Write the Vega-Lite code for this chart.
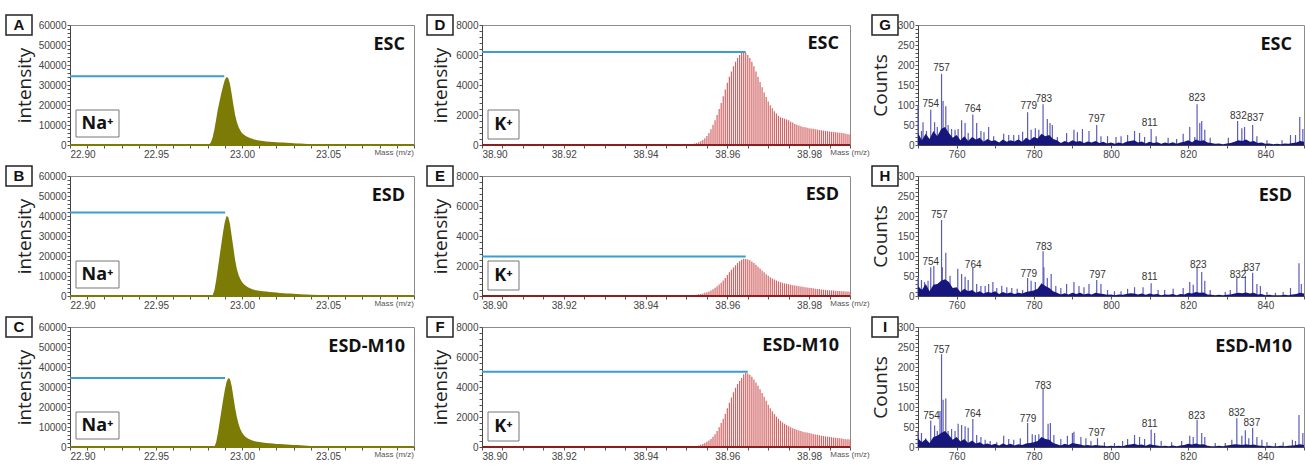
{
"$schema":"https://vega.github.io/schema/vega-lite/v6.json",
"padding":{"left":4,"top":13,"right":0,"bottom":0},
"background":"white",
"config":{"view":{"stroke":"#8c8c8c","strokeWidth":1},"axis":{"grid":false,"labelFont":"Liberation Sans","labelFontSize":10,"labelColor":"#444","tickColor":"#555","domainColor":"#444","tickSize":3,"labelPadding":1,"labelOverlap":false,"titleFont":"Open Sans","titleFontSize":19,"titleFontWeight":"normal","titleColor":"#222"}},
"datasets":{
"na":[
{"s":1,"k":"a","x":22.9897,"y":34400,"n":"ESC","L":"A"},
{"s":2,"k":"a","x":22.9902,"y":41700,"n":"ESD","L":"B"},
{"s":3,"k":"a","x":22.9902,"y":34500,"n":"ESD-M10","L":"C"},
{"s":1,"x":22.98,"y":0},{"s":1,"x":22.981,"y":300},{"s":1,"x":22.982,"y":1500},{"s":1,"x":22.983,"y":4000},{"s":1,"x":22.984,"y":8000},{"s":1,"x":22.985,"y":13000},{"s":1,"x":22.986,"y":18000},{"s":1,"x":22.987,"y":22000},{"s":1,"x":22.988,"y":26000},{"s":1,"x":22.989,"y":29500},{"s":1,"x":22.99,"y":32500},{"s":1,"x":22.991,"y":34000},{"s":1,"x":22.992,"y":33500},{"s":1,"x":22.993,"y":30500},{"s":1,"x":22.994,"y":25500},{"s":1,"x":22.995,"y":20000},{"s":1,"x":22.996,"y":15000},{"s":1,"x":22.997,"y":11500},{"s":1,"x":22.998,"y":9000},{"s":1,"x":22.999,"y":7300},{"s":1,"x":23.0,"y":6000},{"s":1,"x":23.001,"y":5200},{"s":1,"x":23.002,"y":4600},{"s":1,"x":23.003,"y":4100},{"s":1,"x":23.004,"y":3700},{"s":1,"x":23.005,"y":3400},{"s":1,"x":23.006,"y":3100},{"s":1,"x":23.007,"y":2800},{"s":1,"x":23.008,"y":2600},{"s":1,"x":23.009,"y":2400},{"s":1,"x":23.01,"y":2250},{"s":1,"x":23.012,"y":2000},{"s":1,"x":23.014,"y":1800},{"s":1,"x":23.016,"y":1650},{"s":1,"x":23.018,"y":1500},{"s":1,"x":23.02,"y":1400},{"s":1,"x":23.022,"y":1300},{"s":1,"x":23.024,"y":1200},{"s":1,"x":23.026,"y":1100},{"s":1,"x":23.028,"y":1000},{"s":1,"x":23.03,"y":900},{"s":1,"x":23.032,"y":800},{"s":1,"x":23.034,"y":700},{"s":1,"x":23.036,"y":600},{"s":1,"x":23.038,"y":500},{"s":1,"x":23.04,"y":400},{"s":1,"x":23.043,"y":250},{"s":1,"x":23.046,"y":150},{"s":1,"x":23.05,"y":0},
{"s":2,"x":22.982,"y":0},{"s":2,"x":22.983,"y":500},{"s":2,"x":22.984,"y":3000},{"s":2,"x":22.985,"y":8000},{"s":2,"x":22.986,"y":14000},{"s":2,"x":22.987,"y":20000},{"s":2,"x":22.988,"y":26000},{"s":2,"x":22.989,"y":32000},{"s":2,"x":22.99,"y":37000},{"s":2,"x":22.991,"y":40000},{"s":2,"x":22.992,"y":39500},{"s":2,"x":22.993,"y":36000},{"s":2,"x":22.994,"y":30000},{"s":2,"x":22.995,"y":24000},{"s":2,"x":22.996,"y":18000},{"s":2,"x":22.997,"y":13500},{"s":2,"x":22.998,"y":10500},{"s":2,"x":22.999,"y":8500},{"s":2,"x":23.0,"y":7000},{"s":2,"x":23.001,"y":6000},{"s":2,"x":23.002,"y":5200},{"s":2,"x":23.003,"y":4600},{"s":2,"x":23.004,"y":4100},{"s":2,"x":23.005,"y":3700},{"s":2,"x":23.006,"y":3400},{"s":2,"x":23.007,"y":3100},{"s":2,"x":23.008,"y":2900},{"s":2,"x":23.01,"y":2600},{"s":2,"x":23.012,"y":2400},{"s":2,"x":23.014,"y":2200},{"s":2,"x":23.016,"y":2000},{"s":2,"x":23.018,"y":1850},{"s":2,"x":23.02,"y":1700},{"s":2,"x":23.022,"y":1550},{"s":2,"x":23.024,"y":1400},{"s":2,"x":23.026,"y":1300},{"s":2,"x":23.028,"y":1200},{"s":2,"x":23.03,"y":1100},{"s":2,"x":23.032,"y":1000},{"s":2,"x":23.034,"y":900},{"s":2,"x":23.036,"y":800},{"s":2,"x":23.038,"y":700},{"s":2,"x":23.04,"y":600},{"s":2,"x":23.044,"y":450},{"s":2,"x":23.048,"y":350},{"s":2,"x":23.052,"y":250},{"s":2,"x":23.056,"y":150},{"s":2,"x":23.06,"y":0},
{"s":3,"x":22.983,"y":0},{"s":3,"x":22.984,"y":300},{"s":3,"x":22.985,"y":2500},{"s":3,"x":22.986,"y":7000},{"s":3,"x":22.987,"y":12500},{"s":3,"x":22.988,"y":18000},{"s":3,"x":22.989,"y":23500},{"s":3,"x":22.99,"y":28500},{"s":3,"x":22.991,"y":32500},{"s":3,"x":22.992,"y":34500},{"s":3,"x":22.993,"y":34000},{"s":3,"x":22.994,"y":30500},{"s":3,"x":22.995,"y":25000},{"s":3,"x":22.996,"y":19500},{"s":3,"x":22.997,"y":15000},{"s":3,"x":22.998,"y":11500},{"s":3,"x":22.999,"y":9000},{"s":3,"x":23.0,"y":7200},{"s":3,"x":23.001,"y":6000},{"s":3,"x":23.002,"y":5100},{"s":3,"x":23.003,"y":4500},{"s":3,"x":23.004,"y":4000},{"s":3,"x":23.005,"y":3600},{"s":3,"x":23.006,"y":3300},{"s":3,"x":23.007,"y":3000},{"s":3,"x":23.008,"y":2800},{"s":3,"x":23.01,"y":2500},{"s":3,"x":23.012,"y":2250},{"s":3,"x":23.014,"y":2050},{"s":3,"x":23.016,"y":1850},{"s":3,"x":23.018,"y":1700},{"s":3,"x":23.02,"y":1550},{"s":3,"x":23.022,"y":1450},{"s":3,"x":23.024,"y":1350},{"s":3,"x":23.026,"y":1250},{"s":3,"x":23.028,"y":1150},{"s":3,"x":23.03,"y":1050},{"s":3,"x":23.032,"y":950},{"s":3,"x":23.034,"y":850},{"s":3,"x":23.036,"y":750},{"s":3,"x":23.038,"y":650},{"s":3,"x":23.04,"y":500},{"s":3,"x":23.042,"y":200},{"s":3,"x":23.045,"y":0}
],
"kk":[
{"s":1,"k":"a","x":38.9645,"y":6200,"n":"ESC","L":"D"},
{"s":2,"k":"a","x":38.9645,"y":2630,"n":"ESD","L":"E"},
{"s":3,"k":"a","x":38.965,"y":5020,"n":"ESD-M10","L":"F"},
{"s":1,"x":38.951,"y":30},{"s":1,"x":38.9515,"y":60},{"s":1,"x":38.952,"y":100},{"s":1,"x":38.9525,"y":140},{"s":1,"x":38.953,"y":190},{"s":1,"x":38.9535,"y":250},{"s":1,"x":38.954,"y":330},{"s":1,"x":38.9545,"y":450},{"s":1,"x":38.955,"y":600},{"s":1,"x":38.9555,"y":800},{"s":1,"x":38.956,"y":1050},{"s":1,"x":38.9565,"y":1350},{"s":1,"x":38.957,"y":1650},{"s":1,"x":38.9575,"y":2000},{"s":1,"x":38.958,"y":2400},{"s":1,"x":38.9585,"y":2800},{"s":1,"x":38.959,"y":3250},{"s":1,"x":38.9595,"y":3700},{"s":1,"x":38.96,"y":4150},{"s":1,"x":38.9605,"y":4550},{"s":1,"x":38.961,"y":4900},{"s":1,"x":38.9615,"y":5250},{"s":1,"x":38.962,"y":5550},{"s":1,"x":38.9625,"y":5800},{"s":1,"x":38.963,"y":6000},{"s":1,"x":38.9635,"y":6150},{"s":1,"x":38.964,"y":6200},{"s":1,"x":38.9645,"y":6150},{"s":1,"x":38.965,"y":6000},{"s":1,"x":38.9655,"y":5800},{"s":1,"x":38.966,"y":5550},{"s":1,"x":38.9665,"y":5250},{"s":1,"x":38.967,"y":4900},{"s":1,"x":38.9675,"y":4550},{"s":1,"x":38.968,"y":4200},{"s":1,"x":38.9685,"y":3850},{"s":1,"x":38.969,"y":3500},{"s":1,"x":38.9695,"y":3200},{"s":1,"x":38.97,"y":2900},{"s":1,"x":38.9705,"y":2650},{"s":1,"x":38.971,"y":2450},{"s":1,"x":38.9715,"y":2250},{"s":1,"x":38.972,"y":2100},{"s":1,"x":38.9725,"y":1950},{"s":1,"x":38.973,"y":1850},{"s":1,"x":38.9735,"y":1800},{"s":1,"x":38.974,"y":1750},{"s":1,"x":38.9745,"y":1700},{"s":1,"x":38.975,"y":1650},{"s":1,"x":38.9755,"y":1550},{"s":1,"x":38.976,"y":1500},{"s":1,"x":38.9765,"y":1400},{"s":1,"x":38.977,"y":1350},{"s":1,"x":38.9775,"y":1300},{"s":1,"x":38.978,"y":1250},{"s":1,"x":38.9785,"y":1200},{"s":1,"x":38.979,"y":1180},{"s":1,"x":38.9795,"y":1150},{"s":1,"x":38.98,"y":1120},{"s":1,"x":38.9805,"y":1100},{"s":1,"x":38.981,"y":1080},{"s":1,"x":38.9815,"y":1050},{"s":1,"x":38.982,"y":1030},{"s":1,"x":38.9825,"y":1000},{"s":1,"x":38.983,"y":980},{"s":1,"x":38.9835,"y":960},{"s":1,"x":38.984,"y":940},{"s":1,"x":38.9845,"y":920},{"s":1,"x":38.985,"y":900},{"s":1,"x":38.9855,"y":880},{"s":1,"x":38.986,"y":860},{"s":1,"x":38.9865,"y":850},{"s":1,"x":38.987,"y":830},{"s":1,"x":38.9875,"y":810},{"s":1,"x":38.988,"y":800},{"s":1,"x":38.9885,"y":780},{"s":1,"x":38.989,"y":750},{"s":1,"x":38.9895,"y":720},{"s":1,"x":38.99,"y":700},
{"s":2,"x":38.9515,"y":30},{"s":2,"x":38.952,"y":50},{"s":2,"x":38.9525,"y":80},{"s":2,"x":38.953,"y":110},{"s":2,"x":38.9535,"y":140},{"s":2,"x":38.954,"y":170},{"s":2,"x":38.9545,"y":210},{"s":2,"x":38.955,"y":250},{"s":2,"x":38.9555,"y":300},{"s":2,"x":38.956,"y":370},{"s":2,"x":38.9565,"y":450},{"s":2,"x":38.957,"y":550},{"s":2,"x":38.9575,"y":650},{"s":2,"x":38.958,"y":760},{"s":2,"x":38.9585,"y":880},{"s":2,"x":38.959,"y":1030},{"s":2,"x":38.9595,"y":1200},{"s":2,"x":38.96,"y":1400},{"s":2,"x":38.9605,"y":1580},{"s":2,"x":38.961,"y":1750},{"s":2,"x":38.9615,"y":1900},{"s":2,"x":38.962,"y":2050},{"s":2,"x":38.9625,"y":2200},{"s":2,"x":38.963,"y":2320},{"s":2,"x":38.9635,"y":2420},{"s":2,"x":38.964,"y":2480},{"s":2,"x":38.9645,"y":2470},{"s":2,"x":38.965,"y":2440},{"s":2,"x":38.9655,"y":2380},{"s":2,"x":38.966,"y":2300},{"s":2,"x":38.9665,"y":2200},{"s":2,"x":38.967,"y":2080},{"s":2,"x":38.9675,"y":1950},{"s":2,"x":38.968,"y":1830},{"s":2,"x":38.9685,"y":1700},{"s":2,"x":38.969,"y":1580},{"s":2,"x":38.9695,"y":1450},{"s":2,"x":38.97,"y":1350},{"s":2,"x":38.9705,"y":1250},{"s":2,"x":38.971,"y":1170},{"s":2,"x":38.9715,"y":1100},{"s":2,"x":38.972,"y":1030},{"s":2,"x":38.9725,"y":970},{"s":2,"x":38.973,"y":920},{"s":2,"x":38.9735,"y":880},{"s":2,"x":38.974,"y":840},{"s":2,"x":38.9745,"y":810},{"s":2,"x":38.975,"y":780},{"s":2,"x":38.9755,"y":750},{"s":2,"x":38.976,"y":720},{"s":2,"x":38.9765,"y":700},{"s":2,"x":38.977,"y":680},{"s":2,"x":38.9775,"y":650},{"s":2,"x":38.978,"y":630},{"s":2,"x":38.9785,"y":610},{"s":2,"x":38.979,"y":590},{"s":2,"x":38.9795,"y":570},{"s":2,"x":38.98,"y":550},{"s":2,"x":38.9805,"y":530},{"s":2,"x":38.981,"y":510},{"s":2,"x":38.9815,"y":490},{"s":2,"x":38.982,"y":470},{"s":2,"x":38.9825,"y":460},{"s":2,"x":38.983,"y":440},{"s":2,"x":38.9835,"y":420},{"s":2,"x":38.984,"y":410},{"s":2,"x":38.9845,"y":390},{"s":2,"x":38.985,"y":380},{"s":2,"x":38.9855,"y":370},{"s":2,"x":38.986,"y":360},{"s":2,"x":38.9865,"y":350},{"s":2,"x":38.987,"y":340},{"s":2,"x":38.9875,"y":330},{"s":2,"x":38.988,"y":320},{"s":2,"x":38.9885,"y":310},{"s":2,"x":38.989,"y":300},{"s":2,"x":38.9895,"y":300},{"s":2,"x":38.99,"y":290},
{"s":3,"x":38.952,"y":30},{"s":3,"x":38.9525,"y":60},{"s":3,"x":38.953,"y":100},{"s":3,"x":38.9535,"y":150},{"s":3,"x":38.954,"y":200},{"s":3,"x":38.9545,"y":270},{"s":3,"x":38.955,"y":350},{"s":3,"x":38.9555,"y":430},{"s":3,"x":38.956,"y":530},{"s":3,"x":38.9565,"y":680},{"s":3,"x":38.957,"y":850},{"s":3,"x":38.9575,"y":1070},{"s":3,"x":38.958,"y":1320},{"s":3,"x":38.9585,"y":1600},{"s":3,"x":38.959,"y":1880},{"s":3,"x":38.9595,"y":2200},{"s":3,"x":38.96,"y":2580},{"s":3,"x":38.9605,"y":2950},{"s":3,"x":38.961,"y":3300},{"s":3,"x":38.9615,"y":3650},{"s":3,"x":38.962,"y":3950},{"s":3,"x":38.9625,"y":4200},{"s":3,"x":38.963,"y":4400},{"s":3,"x":38.9635,"y":4600},{"s":3,"x":38.964,"y":4850},{"s":3,"x":38.9645,"y":4950},{"s":3,"x":38.965,"y":4900},{"s":3,"x":38.9655,"y":4820},{"s":3,"x":38.966,"y":4680},{"s":3,"x":38.9665,"y":4500},{"s":3,"x":38.967,"y":4300},{"s":3,"x":38.9675,"y":4080},{"s":3,"x":38.968,"y":3850},{"s":3,"x":38.9685,"y":3600},{"s":3,"x":38.969,"y":3350},{"s":3,"x":38.9695,"y":3080},{"s":3,"x":38.97,"y":2820},{"s":3,"x":38.9705,"y":2580},{"s":3,"x":38.971,"y":2380},{"s":3,"x":38.9715,"y":2200},{"s":3,"x":38.972,"y":2030},{"s":3,"x":38.9725,"y":1880},{"s":3,"x":38.973,"y":1750},{"s":3,"x":38.9735,"y":1640},{"s":3,"x":38.974,"y":1550},{"s":3,"x":38.9745,"y":1460},{"s":3,"x":38.975,"y":1380},{"s":3,"x":38.9755,"y":1310},{"s":3,"x":38.976,"y":1250},{"s":3,"x":38.9765,"y":1200},{"s":3,"x":38.977,"y":1150},{"s":3,"x":38.9775,"y":1100},{"s":3,"x":38.978,"y":1060},{"s":3,"x":38.9785,"y":1020},{"s":3,"x":38.979,"y":990},{"s":3,"x":38.9795,"y":960},{"s":3,"x":38.98,"y":930},{"s":3,"x":38.9805,"y":900},{"s":3,"x":38.981,"y":870},{"s":3,"x":38.9815,"y":840},{"s":3,"x":38.982,"y":810},{"s":3,"x":38.9825,"y":780},{"s":3,"x":38.983,"y":750},{"s":3,"x":38.9835,"y":730},{"s":3,"x":38.984,"y":710},{"s":3,"x":38.9845,"y":690},{"s":3,"x":38.985,"y":670},{"s":3,"x":38.9855,"y":650},{"s":3,"x":38.986,"y":630},{"s":3,"x":38.9865,"y":610},{"s":3,"x":38.987,"y":600},{"s":3,"x":38.9875,"y":580},{"s":3,"x":38.988,"y":560},{"s":3,"x":38.9885,"y":540},{"s":3,"x":38.989,"y":520},{"s":3,"x":38.9895,"y":510},{"s":3,"x":38.99,"y":500}
],
"lp":[
{"s":1,"k":"a","x":800,"y":0,"n":"ESC","L":"G"},{"s":2,"k":"a","x":800,"y":0,"n":"ESD","L":"H"},{"s":3,"k":"a","x":800,"y":0,"n":"ESD-M10","L":"I"},
{"s":1,"k":"l","x":753.3,"y":96,"lab":"754"},{"s":1,"k":"l","x":756.1,"y":186,"lab":"757"},{"s":1,"k":"l","x":764.2,"y":82,"lab":"764"},{"s":1,"k":"l","x":778.7,"y":89,"lab":"779"},{"s":1,"k":"l","x":782.6,"y":108,"lab":"783"},{"s":1,"k":"l","x":796.3,"y":57,"lab":"797"},{"s":1,"k":"l","x":810.0,"y":48,"lab":"811"},{"s":1,"k":"l","x":822.3,"y":111,"lab":"823"},{"s":1,"k":"l","x":833.0,"y":66,"lab":"832"},{"s":1,"k":"l","x":837.4,"y":60,"lab":"837"},
{"s":2,"k":"l","x":753.3,"y":77,"lab":"754"},{"s":2,"k":"l","x":755.5,"y":195,"lab":"757"},{"s":2,"k":"l","x":764.3,"y":71,"lab":"764"},{"s":2,"k":"l","x":778.7,"y":47,"lab":"779"},{"s":2,"k":"l","x":782.6,"y":115,"lab":"783"},{"s":2,"k":"l","x":796.5,"y":45,"lab":"797"},{"s":2,"k":"l","x":810.0,"y":39,"lab":"811"},{"s":2,"k":"l","x":822.6,"y":71,"lab":"823"},{"s":2,"k":"l","x":832.9,"y":45,"lab":"832"},{"s":2,"k":"l","x":836.5,"y":63,"lab":"837"},
{"s":3,"k":"l","x":753.5,"y":70,"lab":"754"},{"s":3,"k":"l","x":756.1,"y":236,"lab":"757"},{"s":3,"k":"l","x":764.2,"y":74,"lab":"764"},{"s":3,"k":"l","x":778.5,"y":62,"lab":"779"},{"s":3,"k":"l","x":782.4,"y":146,"lab":"783"},{"s":3,"k":"l","x":796.3,"y":28,"lab":"797"},{"s":3,"k":"l","x":810.0,"y":50,"lab":"811"},{"s":3,"k":"l","x":822.2,"y":70,"lab":"823"},{"s":3,"k":"l","x":832.6,"y":78,"lab":"832"},{"s":3,"k":"l","x":836.5,"y":52,"lab":"837"},
{"s":1,"x":750.0,"y":100},{"s":1,"x":750.9,"y":35},{"s":1,"x":751.3,"y":57},{"s":1,"x":752.2,"y":35},{"s":1,"x":753.3,"y":88},{"s":1,"x":754.3,"y":57},{"s":1,"x":755.0,"y":45},{"s":1,"x":756.1,"y":178},{"s":1,"x":756.5,"y":110},{"s":1,"x":757.2,"y":97},{"s":1,"x":757.8,"y":50},{"s":1,"x":758.7,"y":40},{"s":1,"x":759.6,"y":38},{"s":1,"x":760.4,"y":40},{"s":1,"x":761.3,"y":62},{"s":1,"x":762.2,"y":55},{"s":1,"x":763.0,"y":30},{"s":1,"x":764.2,"y":76},{"s":1,"x":765.2,"y":55},{"s":1,"x":766.3,"y":35},{"s":1,"x":767.1,"y":32},{"s":1,"x":768.3,"y":45},{"s":1,"x":769.6,"y":22},{"s":1,"x":772.2,"y":28},{"s":1,"x":773.5,"y":25},{"s":1,"x":774.8,"y":25},{"s":1,"x":776.1,"y":25},{"s":1,"x":777.1,"y":33},{"s":1,"x":778.4,"y":82},{"s":1,"x":779.3,"y":38},{"s":1,"x":780.4,"y":42},{"s":1,"x":781.3,"y":38},{"s":1,"x":782.4,"y":102},{"s":1,"x":783.5,"y":65},{"s":1,"x":784.2,"y":55},{"s":1,"x":784.8,"y":50},{"s":1,"x":786.1,"y":20},{"s":1,"x":788.5,"y":30},{"s":1,"x":790.4,"y":38},{"s":1,"x":791.3,"y":32},{"s":1,"x":792.6,"y":40},{"s":1,"x":794.3,"y":35},{"s":1,"x":796.3,"y":50},{"s":1,"x":797.4,"y":22},{"s":1,"x":799.1,"y":22},{"s":1,"x":801.3,"y":20},{"s":1,"x":802.6,"y":22},{"s":1,"x":804.3,"y":25},{"s":1,"x":806.1,"y":35},{"s":1,"x":807.4,"y":30},{"s":1,"x":808.7,"y":20},{"s":1,"x":810.4,"y":40},{"s":1,"x":811.7,"y":22},{"s":1,"x":814.8,"y":18},{"s":1,"x":817.0,"y":15},{"s":1,"x":818.7,"y":28},{"s":1,"x":820.4,"y":45},{"s":1,"x":821.7,"y":20},{"s":1,"x":822.3,"y":102},{"s":1,"x":823.0,"y":55},{"s":1,"x":823.5,"y":60},{"s":1,"x":824.3,"y":38},{"s":1,"x":825.7,"y":18},{"s":1,"x":830.4,"y":18},{"s":1,"x":832.8,"y":60},{"s":1,"x":833.9,"y":42},{"s":1,"x":834.6,"y":45},{"s":1,"x":836.7,"y":50},{"s":1,"x":837.8,"y":22},{"s":1,"x":840.4,"y":12},{"s":1,"x":844.3,"y":12},{"s":1,"x":846.5,"y":25},{"s":1,"x":847.8,"y":25},{"s":1,"x":848.9,"y":70},{"s":1,"x":849.7,"y":40},
{"s":2,"x":750.0,"y":45},{"s":2,"x":750.9,"y":40},{"s":2,"x":751.7,"y":35},{"s":2,"x":752.6,"y":38},{"s":2,"x":753.3,"y":72},{"s":2,"x":754.1,"y":75},{"s":2,"x":756.1,"y":190},{"s":2,"x":756.3,"y":72},{"s":2,"x":757.2,"y":108},{"s":2,"x":758.3,"y":50},{"s":2,"x":760.3,"y":68},{"s":2,"x":761.3,"y":55},{"s":2,"x":762.2,"y":48},{"s":2,"x":763.0,"y":40},{"s":2,"x":764.2,"y":70},{"s":2,"x":765.2,"y":30},{"s":2,"x":766.3,"y":25},{"s":2,"x":767.4,"y":25},{"s":2,"x":768.3,"y":30},{"s":2,"x":769.4,"y":35},{"s":2,"x":770.4,"y":20},{"s":2,"x":771.7,"y":25},{"s":2,"x":773.0,"y":22},{"s":2,"x":774.3,"y":20},{"s":2,"x":775.7,"y":18},{"s":2,"x":777.1,"y":15},{"s":2,"x":778.4,"y":45},{"s":2,"x":779.3,"y":38},{"s":2,"x":780.4,"y":35},{"s":2,"x":782.4,"y":112},{"s":2,"x":782.6,"y":72},{"s":2,"x":783.5,"y":45},{"s":2,"x":784.5,"y":55},{"s":2,"x":785.7,"y":25},{"s":2,"x":787.0,"y":20},{"s":2,"x":788.5,"y":30},{"s":2,"x":790.4,"y":35},{"s":2,"x":791.7,"y":25},{"s":2,"x":793.0,"y":22},{"s":2,"x":794.3,"y":30},{"s":2,"x":796.3,"y":40},{"s":2,"x":797.4,"y":30},{"s":2,"x":799.1,"y":15},{"s":2,"x":800.9,"y":12},{"s":2,"x":802.6,"y":12},{"s":2,"x":804.3,"y":18},{"s":2,"x":806.1,"y":22},{"s":2,"x":808.3,"y":22},{"s":2,"x":810.4,"y":32},{"s":2,"x":812.2,"y":15},{"s":2,"x":813.9,"y":15},{"s":2,"x":816.1,"y":18},{"s":2,"x":818.7,"y":20},{"s":2,"x":820.4,"y":35},{"s":2,"x":821.3,"y":28},{"s":2,"x":822.3,"y":70},{"s":2,"x":823.5,"y":60},{"s":2,"x":824.3,"y":38},{"s":2,"x":825.7,"y":15},{"s":2,"x":829.6,"y":10},{"s":2,"x":830.9,"y":15},{"s":2,"x":832.6,"y":45},{"s":2,"x":834.8,"y":50},{"s":2,"x":836.7,"y":58},{"s":2,"x":837.8,"y":30},{"s":2,"x":838.7,"y":25},{"s":2,"x":840.4,"y":10},{"s":2,"x":842.6,"y":8},{"s":2,"x":844.6,"y":10},{"s":2,"x":846.5,"y":20},{"s":2,"x":848.7,"y":82},{"s":2,"x":849.3,"y":30},
{"s":3,"x":750.0,"y":38},{"s":3,"x":750.9,"y":35},{"s":3,"x":752.0,"y":22},{"s":3,"x":753.3,"y":66},{"s":3,"x":754.3,"y":54},{"s":3,"x":755.0,"y":40},{"s":3,"x":755.7,"y":90},{"s":3,"x":756.1,"y":232},{"s":3,"x":756.5,"y":118},{"s":3,"x":757.2,"y":121},{"s":3,"x":757.8,"y":40},{"s":3,"x":758.7,"y":45},{"s":3,"x":759.6,"y":40},{"s":3,"x":760.4,"y":58},{"s":3,"x":761.3,"y":55},{"s":3,"x":762.2,"y":52},{"s":3,"x":763.0,"y":48},{"s":3,"x":764.2,"y":70},{"s":3,"x":765.2,"y":30},{"s":3,"x":766.3,"y":25},{"s":3,"x":767.4,"y":18},{"s":3,"x":768.7,"y":15},{"s":3,"x":770.4,"y":12},{"s":3,"x":772.2,"y":28},{"s":3,"x":773.5,"y":20},{"s":3,"x":774.8,"y":18},{"s":3,"x":776.5,"y":22},{"s":3,"x":778.4,"y":60},{"s":3,"x":779.6,"y":32},{"s":3,"x":780.4,"y":30},{"s":3,"x":781.3,"y":32},{"s":3,"x":782.4,"y":145},{"s":3,"x":783.7,"y":58},{"s":3,"x":784.3,"y":60},{"s":3,"x":785.2,"y":30},{"s":3,"x":787.0,"y":20},{"s":3,"x":788.7,"y":28},{"s":3,"x":790.0,"y":35},{"s":3,"x":790.4,"y":38},{"s":3,"x":792.2,"y":25},{"s":3,"x":793.5,"y":22},{"s":3,"x":794.8,"y":15},{"s":3,"x":796.5,"y":22},{"s":3,"x":798.3,"y":12},{"s":3,"x":800.9,"y":10},{"s":3,"x":803.0,"y":15},{"s":3,"x":804.3,"y":20},{"s":3,"x":806.1,"y":30},{"s":3,"x":807.4,"y":25},{"s":3,"x":808.7,"y":20},{"s":3,"x":810.4,"y":44},{"s":3,"x":811.3,"y":35},{"s":3,"x":813.0,"y":15},{"s":3,"x":815.7,"y":12},{"s":3,"x":818.3,"y":15},{"s":3,"x":820.4,"y":28},{"s":3,"x":821.3,"y":25},{"s":3,"x":822.3,"y":68},{"s":3,"x":823.5,"y":35},{"s":3,"x":824.3,"y":25},{"s":3,"x":827.0,"y":10},{"s":3,"x":829.6,"y":10},{"s":3,"x":831.3,"y":18},{"s":3,"x":832.6,"y":72},{"s":3,"x":833.9,"y":28},{"s":3,"x":834.8,"y":42},{"s":3,"x":835.7,"y":22},{"s":3,"x":836.7,"y":48},{"s":3,"x":837.8,"y":25},{"s":3,"x":839.1,"y":18},{"s":3,"x":840.4,"y":12},{"s":3,"x":842.6,"y":10},{"s":3,"x":844.6,"y":12},{"s":3,"x":847.0,"y":18},{"s":3,"x":847.8,"y":15},{"s":3,"x":848.7,"y":80},{"s":3,"x":849.7,"y":35},
{"s":1,"k":"n","x":750,"y":30},{"s":1,"k":"n","x":751,"y":12},{"s":1,"k":"n","x":752,"y":28},{"s":1,"k":"n","x":753,"y":15},{"s":1,"k":"n","x":754,"y":35},{"s":1,"k":"n","x":755,"y":22},{"s":1,"k":"n","x":756,"y":40},{"s":1,"k":"n","x":757,"y":45},{"s":1,"k":"n","x":758,"y":30},{"s":1,"k":"n","x":759,"y":18},{"s":1,"k":"n","x":760,"y":25},{"s":1,"k":"n","x":761,"y":12},{"s":1,"k":"n","x":762,"y":22},{"s":1,"k":"n","x":763,"y":10},{"s":1,"k":"n","x":764,"y":20},{"s":1,"k":"n","x":765,"y":14},{"s":1,"k":"n","x":766,"y":18},{"s":1,"k":"n","x":767,"y":8},{"s":1,"k":"n","x":768,"y":15},{"s":1,"k":"n","x":769,"y":10},{"s":1,"k":"n","x":770,"y":12},{"s":1,"k":"n","x":771,"y":6},{"s":1,"k":"n","x":772,"y":14},{"s":1,"k":"n","x":773,"y":8},{"s":1,"k":"n","x":774,"y":12},{"s":1,"k":"n","x":775,"y":9},{"s":1,"k":"n","x":776,"y":14},{"s":1,"k":"n","x":777,"y":8},{"s":1,"k":"n","x":778,"y":18},{"s":1,"k":"n","x":779,"y":12},{"s":1,"k":"n","x":780,"y":20},{"s":1,"k":"n","x":781,"y":16},{"s":1,"k":"n","x":782,"y":28},{"s":1,"k":"n","x":783,"y":22},{"s":1,"k":"n","x":784,"y":25},{"s":1,"k":"n","x":785,"y":15},{"s":1,"k":"n","x":786,"y":12},{"s":1,"k":"n","x":787,"y":5},{"s":1,"k":"n","x":788,"y":10},{"s":1,"k":"n","x":789,"y":6},{"s":1,"k":"n","x":790,"y":12},{"s":1,"k":"n","x":791,"y":8},{"s":1,"k":"n","x":792,"y":10},{"s":1,"k":"n","x":793,"y":5},{"s":1,"k":"n","x":794,"y":9},{"s":1,"k":"n","x":795,"y":6},{"s":1,"k":"n","x":796,"y":10},{"s":1,"k":"n","x":797,"y":5},{"s":1,"k":"n","x":798,"y":8},{"s":1,"k":"n","x":799,"y":4},{"s":1,"k":"n","x":800,"y":6},{"s":1,"k":"n","x":801,"y":3},{"s":1,"k":"n","x":802,"y":6},{"s":1,"k":"n","x":803,"y":4},{"s":1,"k":"n","x":804,"y":8},{"s":1,"k":"n","x":805,"y":10},{"s":1,"k":"n","x":806,"y":12},{"s":1,"k":"n","x":807,"y":6},{"s":1,"k":"n","x":808,"y":9},{"s":1,"k":"n","x":809,"y":4},{"s":1,"k":"n","x":810,"y":8},{"s":1,"k":"n","x":811,"y":5},{"s":1,"k":"n","x":812,"y":7},{"s":1,"k":"n","x":813,"y":3},{"s":1,"k":"n","x":814,"y":6},{"s":1,"k":"n","x":815,"y":4},{"s":1,"k":"n","x":816,"y":7},{"s":1,"k":"n","x":817,"y":3},{"s":1,"k":"n","x":818,"y":6},{"s":1,"k":"n","x":819,"y":8},{"s":1,"k":"n","x":820,"y":12},{"s":1,"k":"n","x":821,"y":7},{"s":1,"k":"n","x":822,"y":14},{"s":1,"k":"n","x":823,"y":10},{"s":1,"k":"n","x":824,"y":12},{"s":1,"k":"n","x":825,"y":6},{"s":1,"k":"n","x":826,"y":5},{"s":1,"k":"n","x":827,"y":3},{"s":1,"k":"n","x":828,"y":4},{"s":1,"k":"n","x":829,"y":2},{"s":1,"k":"n","x":830,"y":4},{"s":1,"k":"n","x":831,"y":5},{"s":1,"k":"n","x":832,"y":8},{"s":1,"k":"n","x":833,"y":12},{"s":1,"k":"n","x":834,"y":10},{"s":1,"k":"n","x":835,"y":14},{"s":1,"k":"n","x":836,"y":8},{"s":1,"k":"n","x":837,"y":10},{"s":1,"k":"n","x":838,"y":5},{"s":1,"k":"n","x":839,"y":6},{"s":1,"k":"n","x":840,"y":3},{"s":1,"k":"n","x":841,"y":4},{"s":1,"k":"n","x":842,"y":2},{"s":1,"k":"n","x":843,"y":3},{"s":1,"k":"n","x":844,"y":2},{"s":1,"k":"n","x":845,"y":4},{"s":1,"k":"n","x":846,"y":3},{"s":1,"k":"n","x":847,"y":5},{"s":1,"k":"n","x":848,"y":6},{"s":1,"k":"n","x":849,"y":10},{"s":1,"k":"n","x":850,"y":8},
{"s":2,"k":"n","x":750,"y":25},{"s":2,"k":"n","x":751,"y":15},{"s":2,"k":"n","x":752,"y":30},{"s":2,"k":"n","x":753,"y":12},{"s":2,"k":"n","x":754,"y":28},{"s":2,"k":"n","x":755,"y":30},{"s":2,"k":"n","x":756,"y":38},{"s":2,"k":"n","x":757,"y":42},{"s":2,"k":"n","x":758,"y":35},{"s":2,"k":"n","x":759,"y":20},{"s":2,"k":"n","x":760,"y":22},{"s":2,"k":"n","x":761,"y":10},{"s":2,"k":"n","x":762,"y":18},{"s":2,"k":"n","x":763,"y":12},{"s":2,"k":"n","x":764,"y":15},{"s":2,"k":"n","x":765,"y":8},{"s":2,"k":"n","x":766,"y":12},{"s":2,"k":"n","x":767,"y":6},{"s":2,"k":"n","x":768,"y":10},{"s":2,"k":"n","x":769,"y":8},{"s":2,"k":"n","x":770,"y":12},{"s":2,"k":"n","x":771,"y":5},{"s":2,"k":"n","x":772,"y":10},{"s":2,"k":"n","x":773,"y":6},{"s":2,"k":"n","x":774,"y":9},{"s":2,"k":"n","x":775,"y":5},{"s":2,"k":"n","x":776,"y":8},{"s":2,"k":"n","x":777,"y":6},{"s":2,"k":"n","x":778,"y":10},{"s":2,"k":"n","x":779,"y":12},{"s":2,"k":"n","x":780,"y":14},{"s":2,"k":"n","x":781,"y":18},{"s":2,"k":"n","x":782,"y":32},{"s":2,"k":"n","x":783,"y":25},{"s":2,"k":"n","x":784,"y":20},{"s":2,"k":"n","x":785,"y":12},{"s":2,"k":"n","x":786,"y":8},{"s":2,"k":"n","x":787,"y":4},{"s":2,"k":"n","x":788,"y":7},{"s":2,"k":"n","x":789,"y":4},{"s":2,"k":"n","x":790,"y":8},{"s":2,"k":"n","x":791,"y":5},{"s":2,"k":"n","x":792,"y":8},{"s":2,"k":"n","x":793,"y":4},{"s":2,"k":"n","x":794,"y":6},{"s":2,"k":"n","x":795,"y":4},{"s":2,"k":"n","x":796,"y":8},{"s":2,"k":"n","x":797,"y":6},{"s":2,"k":"n","x":798,"y":5},{"s":2,"k":"n","x":799,"y":3},{"s":2,"k":"n","x":800,"y":4},{"s":2,"k":"n","x":801,"y":2},{"s":2,"k":"n","x":802,"y":4},{"s":2,"k":"n","x":803,"y":3},{"s":2,"k":"n","x":804,"y":5},{"s":2,"k":"n","x":805,"y":7},{"s":2,"k":"n","x":806,"y":6},{"s":2,"k":"n","x":807,"y":4},{"s":2,"k":"n","x":808,"y":6},{"s":2,"k":"n","x":809,"y":3},{"s":2,"k":"n","x":810,"y":6},{"s":2,"k":"n","x":811,"y":4},{"s":2,"k":"n","x":812,"y":5},{"s":2,"k":"n","x":813,"y":2},{"s":2,"k":"n","x":814,"y":4},{"s":2,"k":"n","x":815,"y":3},{"s":2,"k":"n","x":816,"y":5},{"s":2,"k":"n","x":817,"y":2},{"s":2,"k":"n","x":818,"y":5},{"s":2,"k":"n","x":819,"y":4},{"s":2,"k":"n","x":820,"y":8},{"s":2,"k":"n","x":821,"y":6},{"s":2,"k":"n","x":822,"y":10},{"s":2,"k":"n","x":823,"y":8},{"s":2,"k":"n","x":824,"y":9},{"s":2,"k":"n","x":825,"y":4},{"s":2,"k":"n","x":826,"y":3},{"s":2,"k":"n","x":827,"y":2},{"s":2,"k":"n","x":828,"y":3},{"s":2,"k":"n","x":829,"y":2},{"s":2,"k":"n","x":830,"y":3},{"s":2,"k":"n","x":831,"y":4},{"s":2,"k":"n","x":832,"y":6},{"s":2,"k":"n","x":833,"y":8},{"s":2,"k":"n","x":834,"y":7},{"s":2,"k":"n","x":835,"y":9},{"s":2,"k":"n","x":836,"y":6},{"s":2,"k":"n","x":837,"y":8},{"s":2,"k":"n","x":838,"y":4},{"s":2,"k":"n","x":839,"y":5},{"s":2,"k":"n","x":840,"y":2},{"s":2,"k":"n","x":841,"y":3},{"s":2,"k":"n","x":842,"y":2},{"s":2,"k":"n","x":843,"y":2},{"s":2,"k":"n","x":844,"y":2},{"s":2,"k":"n","x":845,"y":3},{"s":2,"k":"n","x":846,"y":2},{"s":2,"k":"n","x":847,"y":4},{"s":2,"k":"n","x":848,"y":5},{"s":2,"k":"n","x":849,"y":8},{"s":2,"k":"n","x":850,"y":6},
{"s":3,"k":"n","x":750,"y":22},{"s":3,"k":"n","x":751,"y":12},{"s":3,"k":"n","x":752,"y":20},{"s":3,"k":"n","x":753,"y":10},{"s":3,"k":"n","x":754,"y":25},{"s":3,"k":"n","x":755,"y":28},{"s":3,"k":"n","x":756,"y":35},{"s":3,"k":"n","x":757,"y":40},{"s":3,"k":"n","x":758,"y":30},{"s":3,"k":"n","x":759,"y":18},{"s":3,"k":"n","x":760,"y":25},{"s":3,"k":"n","x":761,"y":14},{"s":3,"k":"n","x":762,"y":20},{"s":3,"k":"n","x":763,"y":10},{"s":3,"k":"n","x":764,"y":16},{"s":3,"k":"n","x":765,"y":9},{"s":3,"k":"n","x":766,"y":12},{"s":3,"k":"n","x":767,"y":6},{"s":3,"k":"n","x":768,"y":9},{"s":3,"k":"n","x":769,"y":5},{"s":3,"k":"n","x":770,"y":8},{"s":3,"k":"n","x":771,"y":4},{"s":3,"k":"n","x":772,"y":9},{"s":3,"k":"n","x":773,"y":5},{"s":3,"k":"n","x":774,"y":8},{"s":3,"k":"n","x":775,"y":4},{"s":3,"k":"n","x":776,"y":7},{"s":3,"k":"n","x":777,"y":5},{"s":3,"k":"n","x":778,"y":9},{"s":3,"k":"n","x":779,"y":10},{"s":3,"k":"n","x":780,"y":12},{"s":3,"k":"n","x":781,"y":15},{"s":3,"k":"n","x":782,"y":25},{"s":3,"k":"n","x":783,"y":20},{"s":3,"k":"n","x":784,"y":18},{"s":3,"k":"n","x":785,"y":10},{"s":3,"k":"n","x":786,"y":7},{"s":3,"k":"n","x":787,"y":4},{"s":3,"k":"n","x":788,"y":8},{"s":3,"k":"n","x":789,"y":5},{"s":3,"k":"n","x":790,"y":10},{"s":3,"k":"n","x":791,"y":8},{"s":3,"k":"n","x":792,"y":6},{"s":3,"k":"n","x":793,"y":4},{"s":3,"k":"n","x":794,"y":5},{"s":3,"k":"n","x":795,"y":3},{"s":3,"k":"n","x":796,"y":5},{"s":3,"k":"n","x":797,"y":4},{"s":3,"k":"n","x":798,"y":3},{"s":3,"k":"n","x":799,"y":2},{"s":3,"k":"n","x":800,"y":3},{"s":3,"k":"n","x":801,"y":2},{"s":3,"k":"n","x":802,"y":3},{"s":3,"k":"n","x":803,"y":2},{"s":3,"k":"n","x":804,"y":5},{"s":3,"k":"n","x":805,"y":6},{"s":3,"k":"n","x":806,"y":8},{"s":3,"k":"n","x":807,"y":5},{"s":3,"k":"n","x":808,"y":6},{"s":3,"k":"n","x":809,"y":3},{"s":3,"k":"n","x":810,"y":7},{"s":3,"k":"n","x":811,"y":5},{"s":3,"k":"n","x":812,"y":4},{"s":3,"k":"n","x":813,"y":2},{"s":3,"k":"n","x":814,"y":3},{"s":3,"k":"n","x":815,"y":2},{"s":3,"k":"n","x":816,"y":4},{"s":3,"k":"n","x":817,"y":2},{"s":3,"k":"n","x":818,"y":4},{"s":3,"k":"n","x":819,"y":5},{"s":3,"k":"n","x":820,"y":8},{"s":3,"k":"n","x":821,"y":6},{"s":3,"k":"n","x":822,"y":9},{"s":3,"k":"n","x":823,"y":6},{"s":3,"k":"n","x":824,"y":7},{"s":3,"k":"n","x":825,"y":3},{"s":3,"k":"n","x":826,"y":2},{"s":3,"k":"n","x":827,"y":2},{"s":3,"k":"n","x":828,"y":3},{"s":3,"k":"n","x":829,"y":2},{"s":3,"k":"n","x":830,"y":4},{"s":3,"k":"n","x":831,"y":5},{"s":3,"k":"n","x":832,"y":7},{"s":3,"k":"n","x":833,"y":6},{"s":3,"k":"n","x":834,"y":5},{"s":3,"k":"n","x":835,"y":7},{"s":3,"k":"n","x":836,"y":5},{"s":3,"k":"n","x":837,"y":6},{"s":3,"k":"n","x":838,"y":4},{"s":3,"k":"n","x":839,"y":3},{"s":3,"k":"n","x":840,"y":2},{"s":3,"k":"n","x":841,"y":3},{"s":3,"k":"n","x":842,"y":2},{"s":3,"k":"n","x":843,"y":2},{"s":3,"k":"n","x":844,"y":3},{"s":3,"k":"n","x":845,"y":2},{"s":3,"k":"n","x":846,"y":3},{"s":3,"k":"n","x":847,"y":4},{"s":3,"k":"n","x":848,"y":5},{"s":3,"k":"n","x":849,"y":7},{"s":3,"k":"n","x":850,"y":5}
]
},
"columns":3,"spacing":{"row":31,"column":68},"bounds":"flush",
"concat":[
{"width":344,"height":120,"data":{"name":"na"},"transform":[{"filter":"datum.s==1"}],
"encoding":{"x":{"field":"x","type":"quantitative","title":null,"scale":{"domain":[22.9,23.1],"nice":false,"zero":false},"axis":{"values":[22.9,22.91,22.92,22.93,22.94,22.95,22.96,22.97,22.98,22.99,23,23.01,23.02,23.03,23.04,23.05,23.06,23.07,23.08,23.09,23.1],"labelExpr":"indexof(['22.90','22.95','23.00','23.05'],format(datum.value,'.2f'))>=0?format(datum.value,'.2f'):''"}},
"y":{"field":"y","type":"quantitative","title":"intensity","scale":{"domain":[0,60000],"nice":false},"axis":{"values":[0,2000,4000,6000,8000,10000,12000,14000,16000,18000,20000,22000,24000,26000,28000,30000,32000,34000,36000,38000,40000,42000,44000,46000,48000,50000,52000,54000,56000,58000,60000],"labelExpr":"datum.value%10000==0?format(datum.value,'d'):''","titlePadding":4}}},
"layer":[
{"transform":[{"filter":"!datum.k"}],"mark":{"type":"area","color":"#7b7b05"}},
{"transform":[{"filter":"datum.k=='a'"}],"mark":{"type":"rule","color":"#7b7b05","strokeWidth":2},"encoding":{"x":{"datum":22.9},"x2":{"datum":23.1},"y":{"datum":0}}},
{"transform":[{"filter":"datum.k=='a'"}],"mark":{"type":"rule","color":"#3a9fd0","strokeWidth":2},"encoding":{"x":{"datum":22.9},"x2":{"field":"x"}}},
{"transform":[{"filter":"datum.k=='a'"}],"mark":{"type":"text","align":"right","baseline":"alphabetic","dx":-9,"dy":25,"font":"Open Sans","fontWeight":"bold","fontSize":18,"color":"#111"},"encoding":{"x":{"datum":23.1},"y":{"datum":60000},"text":{"field":"n"}}},
{"transform":[{"filter":"datum.k=='a'"}],"mark":{"type":"rect","fill":"white","stroke":"#777","strokeWidth":1,"xOffset":6,"x2Offset":49,"yOffset":-8,"y2Offset":-35},"encoding":{"x":{"datum":22.9},"x2":{"datum":22.9},"y":{"datum":0},"y2":{"datum":0}}},
{"transform":[{"filter":"datum.k=='a'"}],"mark":{"type":"text","text":"Na⁺","dx":27.5,"dy":-21,"font":"Open Sans","fontWeight":"bold","fontSize":18,"color":"#111"},"encoding":{"x":{"datum":22.9},"y":{"datum":0}}},
{"transform":[{"filter":"datum.k=='a'"}],"mark":{"type":"rect","fill":"white","stroke":"#222","strokeWidth":1.5,"xOffset":-64,"x2Offset":-38,"yOffset":-10,"y2Offset":10},"encoding":{"x":{"datum":22.9},"x2":{"datum":22.9},"y":{"datum":60000},"y2":{"datum":60000}}},
{"transform":[{"filter":"datum.k=='a'"}],"mark":{"type":"text","dx":-51,"font":"Liberation Sans","fontWeight":"bold","fontSize":15,"color":"#111"},"encoding":{"x":{"datum":22.9},"y":{"datum":60000},"text":{"field":"L"}}},
{"transform":[{"filter":"datum.k=='a'"}],"mark":{"type":"text","text":"Mass (m/z)","align":"right","baseline":"top","dy":4,"font":"Liberation Sans","fontSize":8,"color":"#555"},"encoding":{"x":{"datum":23.1},"y":{"datum":0}}}
]},
{"width":368,"height":120,"data":{"name":"kk"},"transform":[{"filter":"datum.s==1"}],
"encoding":{"x":{"field":"x","type":"quantitative","title":null,"scale":{"domain":[38.9,38.99],"nice":false,"zero":false},"axis":{"values":[38.9,38.905,38.91,38.915,38.92,38.925,38.93,38.935,38.94,38.945,38.95,38.955,38.96,38.965,38.97,38.975,38.98,38.985,38.99],"labelExpr":"indexof(['38.900','38.920','38.940','38.960','38.980'],format(datum.value,'.3f'))>=0?format(datum.value,'.2f'):''"}},
"y":{"field":"y","type":"quantitative","title":"intensity","scale":{"domain":[0,8000],"nice":false},"axis":{"values":[0,400,800,1200,1600,2000,2400,2800,3200,3600,4000,4400,4800,5200,5600,6000,6400,6800,7200,7600,8000],"labelExpr":"datum.value%2000==0?format(datum.value,'d'):''","titlePadding":5}}},
"layer":[
{"transform":[{"filter":"!datum.k"}],"mark":{"type":"rule","color":"#d26464","strokeWidth":1.2},"encoding":{"y2":{"datum":0}}},
{"transform":[{"filter":"datum.k=='a'"}],"mark":{"type":"rule","color":"#8b1e1e","strokeWidth":2},"encoding":{"x":{"datum":38.9},"x2":{"datum":38.99},"y":{"datum":0}}},
{"transform":[{"filter":"datum.k=='a'"}],"mark":{"type":"rule","color":"#3a9fd0","strokeWidth":2},"encoding":{"x":{"datum":38.9},"x2":{"field":"x"}}},
{"transform":[{"filter":"datum.k=='a'"}],"mark":{"type":"text","align":"right","baseline":"alphabetic","dx":-11,"dy":24,"font":"Open Sans","fontWeight":"bold","fontSize":18,"color":"#111"},"encoding":{"x":{"datum":38.99},"y":{"datum":8000},"text":{"field":"n"}}},
{"transform":[{"filter":"datum.k=='a'"}],"mark":{"type":"rect","fill":"white","stroke":"#777","strokeWidth":1,"xOffset":6,"x2Offset":37,"yOffset":-6,"y2Offset":-35},"encoding":{"x":{"datum":38.9},"x2":{"datum":38.9},"y":{"datum":0},"y2":{"datum":0}}},
{"transform":[{"filter":"datum.k=='a'"}],"mark":{"type":"text","text":"K⁺","dx":21.5,"dy":-20,"font":"Open Sans","fontWeight":"bold","fontSize":18,"color":"#111"},"encoding":{"x":{"datum":38.9},"y":{"datum":0}}},
{"transform":[{"filter":"datum.k=='a'"}],"mark":{"type":"rect","fill":"white","stroke":"#222","strokeWidth":1.5,"xOffset":-55,"x2Offset":-29,"yOffset":-10,"y2Offset":10},"encoding":{"x":{"datum":38.9},"x2":{"datum":38.9},"y":{"datum":8000},"y2":{"datum":8000}}},
{"transform":[{"filter":"datum.k=='a'"}],"mark":{"type":"text","dx":-42,"font":"Liberation Sans","fontWeight":"bold","fontSize":15,"color":"#111"},"encoding":{"x":{"datum":38.9},"y":{"datum":8000},"text":{"field":"L"}}},
{"transform":[{"filter":"datum.k=='a'"}],"mark":{"type":"text","text":"Mass (m/z)","align":"center","baseline":"top","dy":4,"font":"Liberation Sans","fontSize":8,"color":"#555"},"encoding":{"x":{"datum":38.99},"y":{"datum":0}}}
]},
{"width":386,"height":120,"data":{"name":"lp"},"transform":[{"filter":"datum.s==1"}],
"encoding":{"x":{"field":"x","type":"quantitative","title":null,"scale":{"domain":[750,850],"nice":false,"zero":false},"axis":{"values":[750,760,770,780,790,800,810,820,830,840,850],"labelExpr":"datum.value%20==0&&datum.value>750&&datum.value<850?format(datum.value,'d'):''"}},
"y":{"field":"y","type":"quantitative","title":"Counts","scale":{"domain":[0,300],"nice":false},"axis":{"values":[0,10,20,30,40,50,60,70,80,90,100,110,120,130,140,150,160,170,180,190,200,210,220,230,240,250,260,270,280,290,300],"labelExpr":"datum.value%50==0?format(datum.value,'d'):''","titlePadding":7}}},
"layer":[
{"transform":[{"filter":"!datum.k"}],"mark":{"type":"rule","color":"#5b5bbd","strokeWidth":1.2},"encoding":{"y2":{"datum":0}}},
{"transform":[{"filter":"datum.k=='n'"}],"mark":{"type":"area","color":"#16167c"}},
{"transform":[{"filter":"datum.k=='l'"}],"mark":{"type":"text","baseline":"alphabetic","font":"Liberation Sans","fontSize":10,"color":"#333"},"encoding":{"text":{"field":"lab"}}},
{"transform":[{"filter":"datum.k=='a'"}],"mark":{"type":"text","align":"right","baseline":"alphabetic","dx":-12,"dy":25,"font":"Open Sans","fontWeight":"bold","fontSize":18,"color":"#111"},"encoding":{"x":{"datum":850},"y":{"datum":300},"text":{"field":"n"}}},
{"transform":[{"filter":"datum.k=='a'"}],"mark":{"type":"rect","fill":"white","stroke":"#222","strokeWidth":1.5,"xOffset":-46,"x2Offset":-20,"yOffset":-10,"y2Offset":10},"encoding":{"x":{"datum":750},"x2":{"datum":750},"y":{"datum":300},"y2":{"datum":300}}},
{"transform":[{"filter":"datum.k=='a'"}],"mark":{"type":"text","dx":-33,"font":"Liberation Sans","fontWeight":"bold","fontSize":15,"color":"#111"},"encoding":{"x":{"datum":750},"y":{"datum":300},"text":{"field":"L"}}}
]},
{"width":344,"height":120,"data":{"name":"na"},"transform":[{"filter":"datum.s==2"}],
"encoding":{"x":{"field":"x","type":"quantitative","title":null,"scale":{"domain":[22.9,23.1],"nice":false,"zero":false},"axis":{"values":[22.9,22.91,22.92,22.93,22.94,22.95,22.96,22.97,22.98,22.99,23,23.01,23.02,23.03,23.04,23.05,23.06,23.07,23.08,23.09,23.1],"labelExpr":"indexof(['22.90','22.95','23.00','23.05'],format(datum.value,'.2f'))>=0?format(datum.value,'.2f'):''"}},
"y":{"field":"y","type":"quantitative","title":"intensity","scale":{"domain":[0,60000],"nice":false},"axis":{"values":[0,2000,4000,6000,8000,10000,12000,14000,16000,18000,20000,22000,24000,26000,28000,30000,32000,34000,36000,38000,40000,42000,44000,46000,48000,50000,52000,54000,56000,58000,60000],"labelExpr":"datum.value%10000==0?format(datum.value,'d'):''","titlePadding":4}}},
"layer":[
{"transform":[{"filter":"!datum.k"}],"mark":{"type":"area","color":"#7b7b05"}},
{"transform":[{"filter":"datum.k=='a'"}],"mark":{"type":"rule","color":"#7b7b05","strokeWidth":2},"encoding":{"x":{"datum":22.9},"x2":{"datum":23.1},"y":{"datum":0}}},
{"transform":[{"filter":"datum.k=='a'"}],"mark":{"type":"rule","color":"#3a9fd0","strokeWidth":2},"encoding":{"x":{"datum":22.9},"x2":{"field":"x"}}},
{"transform":[{"filter":"datum.k=='a'"}],"mark":{"type":"text","align":"right","baseline":"alphabetic","dx":-9,"dy":25,"font":"Open Sans","fontWeight":"bold","fontSize":18,"color":"#111"},"encoding":{"x":{"datum":23.1},"y":{"datum":60000},"text":{"field":"n"}}},
{"transform":[{"filter":"datum.k=='a'"}],"mark":{"type":"rect","fill":"white","stroke":"#777","strokeWidth":1,"xOffset":6,"x2Offset":49,"yOffset":-8,"y2Offset":-35},"encoding":{"x":{"datum":22.9},"x2":{"datum":22.9},"y":{"datum":0},"y2":{"datum":0}}},
{"transform":[{"filter":"datum.k=='a'"}],"mark":{"type":"text","text":"Na⁺","dx":27.5,"dy":-21,"font":"Open Sans","fontWeight":"bold","fontSize":18,"color":"#111"},"encoding":{"x":{"datum":22.9},"y":{"datum":0}}},
{"transform":[{"filter":"datum.k=='a'"}],"mark":{"type":"rect","fill":"white","stroke":"#222","strokeWidth":1.5,"xOffset":-64,"x2Offset":-38,"yOffset":-10,"y2Offset":10},"encoding":{"x":{"datum":22.9},"x2":{"datum":22.9},"y":{"datum":60000},"y2":{"datum":60000}}},
{"transform":[{"filter":"datum.k=='a'"}],"mark":{"type":"text","dx":-51,"font":"Liberation Sans","fontWeight":"bold","fontSize":15,"color":"#111"},"encoding":{"x":{"datum":22.9},"y":{"datum":60000},"text":{"field":"L"}}},
{"transform":[{"filter":"datum.k=='a'"}],"mark":{"type":"text","text":"Mass (m/z)","align":"right","baseline":"top","dy":4,"font":"Liberation Sans","fontSize":8,"color":"#555"},"encoding":{"x":{"datum":23.1},"y":{"datum":0}}}
]},
{"width":368,"height":120,"data":{"name":"kk"},"transform":[{"filter":"datum.s==2"}],
"encoding":{"x":{"field":"x","type":"quantitative","title":null,"scale":{"domain":[38.9,38.99],"nice":false,"zero":false},"axis":{"values":[38.9,38.905,38.91,38.915,38.92,38.925,38.93,38.935,38.94,38.945,38.95,38.955,38.96,38.965,38.97,38.975,38.98,38.985,38.99],"labelExpr":"indexof(['38.900','38.920','38.940','38.960','38.980'],format(datum.value,'.3f'))>=0?format(datum.value,'.2f'):''"}},
"y":{"field":"y","type":"quantitative","title":"intensity","scale":{"domain":[0,8000],"nice":false},"axis":{"values":[0,400,800,1200,1600,2000,2400,2800,3200,3600,4000,4400,4800,5200,5600,6000,6400,6800,7200,7600,8000],"labelExpr":"datum.value%2000==0?format(datum.value,'d'):''","titlePadding":5}}},
"layer":[
{"transform":[{"filter":"!datum.k"}],"mark":{"type":"rule","color":"#d26464","strokeWidth":1.2},"encoding":{"y2":{"datum":0}}},
{"transform":[{"filter":"datum.k=='a'"}],"mark":{"type":"rule","color":"#8b1e1e","strokeWidth":2},"encoding":{"x":{"datum":38.9},"x2":{"datum":38.99},"y":{"datum":0}}},
{"transform":[{"filter":"datum.k=='a'"}],"mark":{"type":"rule","color":"#3a9fd0","strokeWidth":2},"encoding":{"x":{"datum":38.9},"x2":{"field":"x"}}},
{"transform":[{"filter":"datum.k=='a'"}],"mark":{"type":"text","align":"right","baseline":"alphabetic","dx":-11,"dy":24,"font":"Open Sans","fontWeight":"bold","fontSize":18,"color":"#111"},"encoding":{"x":{"datum":38.99},"y":{"datum":8000},"text":{"field":"n"}}},
{"transform":[{"filter":"datum.k=='a'"}],"mark":{"type":"rect","fill":"white","stroke":"#777","strokeWidth":1,"xOffset":6,"x2Offset":37,"yOffset":-6,"y2Offset":-35},"encoding":{"x":{"datum":38.9},"x2":{"datum":38.9},"y":{"datum":0},"y2":{"datum":0}}},
{"transform":[{"filter":"datum.k=='a'"}],"mark":{"type":"text","text":"K⁺","dx":21.5,"dy":-20,"font":"Open Sans","fontWeight":"bold","fontSize":18,"color":"#111"},"encoding":{"x":{"datum":38.9},"y":{"datum":0}}},
{"transform":[{"filter":"datum.k=='a'"}],"mark":{"type":"rect","fill":"white","stroke":"#222","strokeWidth":1.5,"xOffset":-55,"x2Offset":-29,"yOffset":-10,"y2Offset":10},"encoding":{"x":{"datum":38.9},"x2":{"datum":38.9},"y":{"datum":8000},"y2":{"datum":8000}}},
{"transform":[{"filter":"datum.k=='a'"}],"mark":{"type":"text","dx":-42,"font":"Liberation Sans","fontWeight":"bold","fontSize":15,"color":"#111"},"encoding":{"x":{"datum":38.9},"y":{"datum":8000},"text":{"field":"L"}}},
{"transform":[{"filter":"datum.k=='a'"}],"mark":{"type":"text","text":"Mass (m/z)","align":"center","baseline":"top","dy":4,"font":"Liberation Sans","fontSize":8,"color":"#555"},"encoding":{"x":{"datum":38.99},"y":{"datum":0}}}
]},
{"width":386,"height":120,"data":{"name":"lp"},"transform":[{"filter":"datum.s==2"}],
"encoding":{"x":{"field":"x","type":"quantitative","title":null,"scale":{"domain":[750,850],"nice":false,"zero":false},"axis":{"values":[750,760,770,780,790,800,810,820,830,840,850],"labelExpr":"datum.value%20==0&&datum.value>750&&datum.value<850?format(datum.value,'d'):''"}},
"y":{"field":"y","type":"quantitative","title":"Counts","scale":{"domain":[0,300],"nice":false},"axis":{"values":[0,10,20,30,40,50,60,70,80,90,100,110,120,130,140,150,160,170,180,190,200,210,220,230,240,250,260,270,280,290,300],"labelExpr":"datum.value%50==0?format(datum.value,'d'):''","titlePadding":7}}},
"layer":[
{"transform":[{"filter":"!datum.k"}],"mark":{"type":"rule","color":"#5b5bbd","strokeWidth":1.2},"encoding":{"y2":{"datum":0}}},
{"transform":[{"filter":"datum.k=='n'"}],"mark":{"type":"area","color":"#16167c"}},
{"transform":[{"filter":"datum.k=='l'"}],"mark":{"type":"text","baseline":"alphabetic","font":"Liberation Sans","fontSize":10,"color":"#333"},"encoding":{"text":{"field":"lab"}}},
{"transform":[{"filter":"datum.k=='a'"}],"mark":{"type":"text","align":"right","baseline":"alphabetic","dx":-12,"dy":25,"font":"Open Sans","fontWeight":"bold","fontSize":18,"color":"#111"},"encoding":{"x":{"datum":850},"y":{"datum":300},"text":{"field":"n"}}},
{"transform":[{"filter":"datum.k=='a'"}],"mark":{"type":"rect","fill":"white","stroke":"#222","strokeWidth":1.5,"xOffset":-46,"x2Offset":-20,"yOffset":-10,"y2Offset":10},"encoding":{"x":{"datum":750},"x2":{"datum":750},"y":{"datum":300},"y2":{"datum":300}}},
{"transform":[{"filter":"datum.k=='a'"}],"mark":{"type":"text","dx":-33,"font":"Liberation Sans","fontWeight":"bold","fontSize":15,"color":"#111"},"encoding":{"x":{"datum":750},"y":{"datum":300},"text":{"field":"L"}}}
]},
{"width":344,"height":120,"data":{"name":"na"},"transform":[{"filter":"datum.s==3"}],
"encoding":{"x":{"field":"x","type":"quantitative","title":null,"scale":{"domain":[22.9,23.1],"nice":false,"zero":false},"axis":{"values":[22.9,22.91,22.92,22.93,22.94,22.95,22.96,22.97,22.98,22.99,23,23.01,23.02,23.03,23.04,23.05,23.06,23.07,23.08,23.09,23.1],"labelExpr":"indexof(['22.90','22.95','23.00','23.05'],format(datum.value,'.2f'))>=0?format(datum.value,'.2f'):''"}},
"y":{"field":"y","type":"quantitative","title":"intensity","scale":{"domain":[0,60000],"nice":false},"axis":{"values":[0,2000,4000,6000,8000,10000,12000,14000,16000,18000,20000,22000,24000,26000,28000,30000,32000,34000,36000,38000,40000,42000,44000,46000,48000,50000,52000,54000,56000,58000,60000],"labelExpr":"datum.value%10000==0?format(datum.value,'d'):''","titlePadding":4}}},
"layer":[
{"transform":[{"filter":"!datum.k"}],"mark":{"type":"area","color":"#7b7b05"}},
{"transform":[{"filter":"datum.k=='a'"}],"mark":{"type":"rule","color":"#7b7b05","strokeWidth":2},"encoding":{"x":{"datum":22.9},"x2":{"datum":23.1},"y":{"datum":0}}},
{"transform":[{"filter":"datum.k=='a'"}],"mark":{"type":"rule","color":"#3a9fd0","strokeWidth":2},"encoding":{"x":{"datum":22.9},"x2":{"field":"x"}}},
{"transform":[{"filter":"datum.k=='a'"}],"mark":{"type":"text","align":"right","baseline":"alphabetic","dx":-9,"dy":25,"font":"Open Sans","fontWeight":"bold","fontSize":18,"color":"#111"},"encoding":{"x":{"datum":23.1},"y":{"datum":60000},"text":{"field":"n"}}},
{"transform":[{"filter":"datum.k=='a'"}],"mark":{"type":"rect","fill":"white","stroke":"#777","strokeWidth":1,"xOffset":6,"x2Offset":49,"yOffset":-8,"y2Offset":-35},"encoding":{"x":{"datum":22.9},"x2":{"datum":22.9},"y":{"datum":0},"y2":{"datum":0}}},
{"transform":[{"filter":"datum.k=='a'"}],"mark":{"type":"text","text":"Na⁺","dx":27.5,"dy":-21,"font":"Open Sans","fontWeight":"bold","fontSize":18,"color":"#111"},"encoding":{"x":{"datum":22.9},"y":{"datum":0}}},
{"transform":[{"filter":"datum.k=='a'"}],"mark":{"type":"rect","fill":"white","stroke":"#222","strokeWidth":1.5,"xOffset":-64,"x2Offset":-38,"yOffset":-10,"y2Offset":10},"encoding":{"x":{"datum":22.9},"x2":{"datum":22.9},"y":{"datum":60000},"y2":{"datum":60000}}},
{"transform":[{"filter":"datum.k=='a'"}],"mark":{"type":"text","dx":-51,"font":"Liberation Sans","fontWeight":"bold","fontSize":15,"color":"#111"},"encoding":{"x":{"datum":22.9},"y":{"datum":60000},"text":{"field":"L"}}},
{"transform":[{"filter":"datum.k=='a'"}],"mark":{"type":"text","text":"Mass (m/z)","align":"right","baseline":"top","dy":4,"font":"Liberation Sans","fontSize":8,"color":"#555"},"encoding":{"x":{"datum":23.1},"y":{"datum":0}}}
]},
{"width":368,"height":120,"data":{"name":"kk"},"transform":[{"filter":"datum.s==3"}],
"encoding":{"x":{"field":"x","type":"quantitative","title":null,"scale":{"domain":[38.9,38.99],"nice":false,"zero":false},"axis":{"values":[38.9,38.905,38.91,38.915,38.92,38.925,38.93,38.935,38.94,38.945,38.95,38.955,38.96,38.965,38.97,38.975,38.98,38.985,38.99],"labelExpr":"indexof(['38.900','38.920','38.940','38.960','38.980'],format(datum.value,'.3f'))>=0?format(datum.value,'.2f'):''"}},
"y":{"field":"y","type":"quantitative","title":"intensity","scale":{"domain":[0,8000],"nice":false},"axis":{"values":[0,400,800,1200,1600,2000,2400,2800,3200,3600,4000,4400,4800,5200,5600,6000,6400,6800,7200,7600,8000],"labelExpr":"datum.value%2000==0?format(datum.value,'d'):''","titlePadding":5}}},
"layer":[
{"transform":[{"filter":"!datum.k"}],"mark":{"type":"rule","color":"#d26464","strokeWidth":1.2},"encoding":{"y2":{"datum":0}}},
{"transform":[{"filter":"datum.k=='a'"}],"mark":{"type":"rule","color":"#8b1e1e","strokeWidth":2},"encoding":{"x":{"datum":38.9},"x2":{"datum":38.99},"y":{"datum":0}}},
{"transform":[{"filter":"datum.k=='a'"}],"mark":{"type":"rule","color":"#3a9fd0","strokeWidth":2},"encoding":{"x":{"datum":38.9},"x2":{"field":"x"}}},
{"transform":[{"filter":"datum.k=='a'"}],"mark":{"type":"text","align":"right","baseline":"alphabetic","dx":-11,"dy":24,"font":"Open Sans","fontWeight":"bold","fontSize":18,"color":"#111"},"encoding":{"x":{"datum":38.99},"y":{"datum":8000},"text":{"field":"n"}}},
{"transform":[{"filter":"datum.k=='a'"}],"mark":{"type":"rect","fill":"white","stroke":"#777","strokeWidth":1,"xOffset":6,"x2Offset":37,"yOffset":-6,"y2Offset":-35},"encoding":{"x":{"datum":38.9},"x2":{"datum":38.9},"y":{"datum":0},"y2":{"datum":0}}},
{"transform":[{"filter":"datum.k=='a'"}],"mark":{"type":"text","text":"K⁺","dx":21.5,"dy":-20,"font":"Open Sans","fontWeight":"bold","fontSize":18,"color":"#111"},"encoding":{"x":{"datum":38.9},"y":{"datum":0}}},
{"transform":[{"filter":"datum.k=='a'"}],"mark":{"type":"rect","fill":"white","stroke":"#222","strokeWidth":1.5,"xOffset":-55,"x2Offset":-29,"yOffset":-10,"y2Offset":10},"encoding":{"x":{"datum":38.9},"x2":{"datum":38.9},"y":{"datum":8000},"y2":{"datum":8000}}},
{"transform":[{"filter":"datum.k=='a'"}],"mark":{"type":"text","dx":-42,"font":"Liberation Sans","fontWeight":"bold","fontSize":15,"color":"#111"},"encoding":{"x":{"datum":38.9},"y":{"datum":8000},"text":{"field":"L"}}},
{"transform":[{"filter":"datum.k=='a'"}],"mark":{"type":"text","text":"Mass (m/z)","align":"center","baseline":"top","dy":4,"font":"Liberation Sans","fontSize":8,"color":"#555"},"encoding":{"x":{"datum":38.99},"y":{"datum":0}}}
]},
{"width":386,"height":120,"data":{"name":"lp"},"transform":[{"filter":"datum.s==3"}],
"encoding":{"x":{"field":"x","type":"quantitative","title":null,"scale":{"domain":[750,850],"nice":false,"zero":false},"axis":{"values":[750,760,770,780,790,800,810,820,830,840,850],"labelExpr":"datum.value%20==0&&datum.value>750&&datum.value<850?format(datum.value,'d'):''"}},
"y":{"field":"y","type":"quantitative","title":"Counts","scale":{"domain":[0,300],"nice":false},"axis":{"values":[0,10,20,30,40,50,60,70,80,90,100,110,120,130,140,150,160,170,180,190,200,210,220,230,240,250,260,270,280,290,300],"labelExpr":"datum.value%50==0?format(datum.value,'d'):''","titlePadding":7}}},
"layer":[
{"transform":[{"filter":"!datum.k"}],"mark":{"type":"rule","color":"#5b5bbd","strokeWidth":1.2},"encoding":{"y2":{"datum":0}}},
{"transform":[{"filter":"datum.k=='n'"}],"mark":{"type":"area","color":"#16167c"}},
{"transform":[{"filter":"datum.k=='l'"}],"mark":{"type":"text","baseline":"alphabetic","font":"Liberation Sans","fontSize":10,"color":"#333"},"encoding":{"text":{"field":"lab"}}},
{"transform":[{"filter":"datum.k=='a'"}],"mark":{"type":"text","align":"right","baseline":"alphabetic","dx":-12,"dy":25,"font":"Open Sans","fontWeight":"bold","fontSize":18,"color":"#111"},"encoding":{"x":{"datum":850},"y":{"datum":300},"text":{"field":"n"}}},
{"transform":[{"filter":"datum.k=='a'"}],"mark":{"type":"rect","fill":"white","stroke":"#222","strokeWidth":1.5,"xOffset":-46,"x2Offset":-20,"yOffset":-10,"y2Offset":10},"encoding":{"x":{"datum":750},"x2":{"datum":750},"y":{"datum":300},"y2":{"datum":300}}},
{"transform":[{"filter":"datum.k=='a'"}],"mark":{"type":"text","dx":-33,"font":"Liberation Sans","fontWeight":"bold","fontSize":15,"color":"#111"},"encoding":{"x":{"datum":750},"y":{"datum":300},"text":{"field":"L"}}}
]}
]
}
